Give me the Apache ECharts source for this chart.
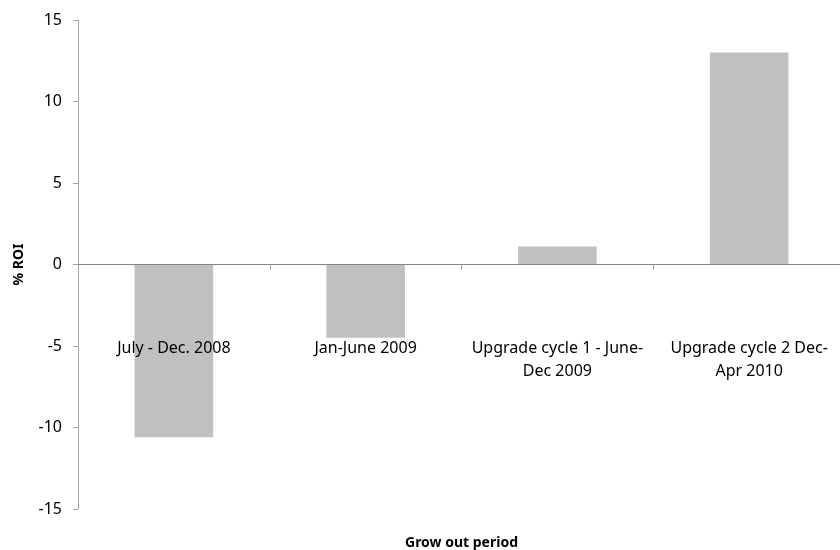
<!DOCTYPE html>
<html>
<head>
<meta charset="utf-8">
<script src="https://cdn.jsdelivr.net/npm/echarts@6/dist/echarts.min.js"></script>
<style>
  html, body { margin: 0; padding: 0; background: #fff; }
  #chart { width: 840px; height: 550px; }
</style>
</head>
<body>
<div id="chart"></div>
<script>
// 数据
var categories = [
  'July - Dec. 2008',
  'Jan-June 2009',
  'Upgrade cycle 1 - June-\nDec 2009',
  'Upgrade cycle 2 Dec-\nApr 2010'
];
var roiValues = [-10.6, -4.5, 1.1, 13.0];
var yMin = -15, yMax = 15, yStep = 5;

var font = "'Liberation Sans Narrow', 'Noto Sans', sans-serif";

var myChart = echarts.init(document.getElementById('chart'));
var option = {
  animation: false,
  grid: {
    left: 78,
    right: -5,
    top: 20,
    bottom: 41,
    containLabel: false,
    outerBoundsMode: 'none'
  },
  xAxis: {
    type: 'category',
    data: categories,
    z: 5,
    name: 'Grow out period',
    nameLocation: 'middle',
    nameGap: 27,
    nameTextStyle: {
      fontFamily: font,
      fontSize: 14,
      fontWeight: 'bold',
      color: '#000'
    },
    axisLine: {
      onZero: true,
      lineStyle: { color: '#868686', width: 1 }
    },
    axisTick: {
      show: true,
      length: 5,
      alignWithLabel: false,
      lineStyle: { color: '#a0a0a0' }
    },
    axisLabel: {
      interval: 0,
      margin: -172,
      fontFamily: font,
      fontSize: 16,
      lineHeight: 23,
      color: '#000'
    }
  },
  yAxis: {
    type: 'value',
    min: yMin,
    max: yMax,
    interval: yStep,
    name: '% ROI',
    nameLocation: 'middle',
    nameGap: 52,
    nameTextStyle: {
      fontFamily: font,
      fontSize: 14,
      fontWeight: 'bold',
      color: '#000'
    },
    axisLine: {
      show: true,
      lineStyle: { color: '#a6a6a6', width: 1 }
    },
    axisTick: {
      show: true,
      length: 5,
      lineStyle: { color: '#a6a6a6' }
    },
    splitLine: { show: false },
    axisLabel: {
      margin: 16,
      fontFamily: font,
      fontSize: 16,
      color: '#000'
    }
  },
  series: [{
    name: '% ROI',
    type: 'bar',
    data: roiValues,
    barWidth: '41%',
    itemStyle: { color: '#c0c0c0' }
  }]
};
myChart.setOption(option);
</script>
</body>
</html>
